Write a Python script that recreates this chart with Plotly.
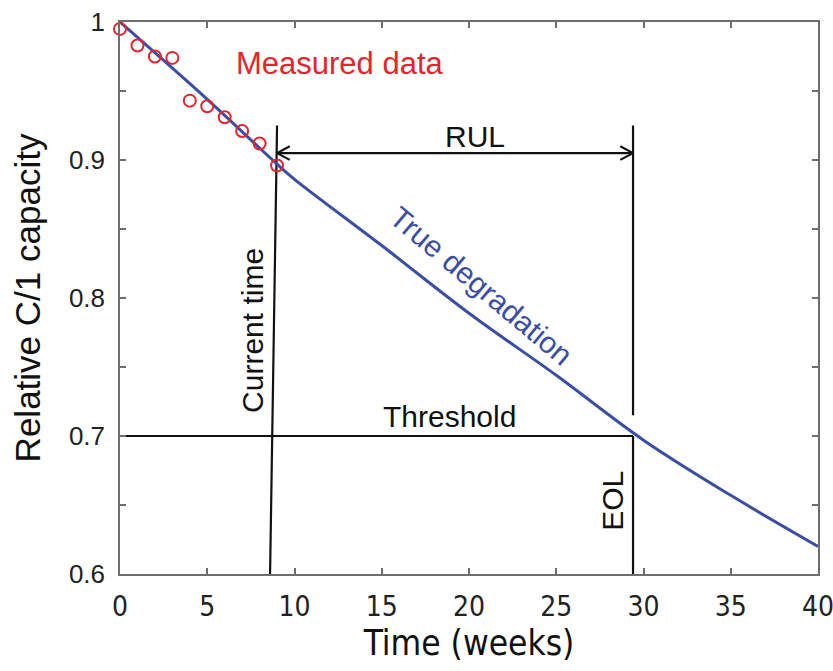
import plotly.graph_objects as go

# ---- data ----
measured_x = [0, 1, 2, 3, 4, 5, 6, 7, 8, 9]
measured_y = [0.995, 0.983, 0.975, 0.974, 0.943, 0.939, 0.931, 0.921, 0.912, 0.896]

curve_x = [0, 5, 9, 10, 15, 20, 25, 30, 35, 40]
curve_y = [1.000, 0.944, 0.897, 0.886, 0.838, 0.789, 0.744, 0.697, 0.657, 0.620]

threshold = 0.7
current_time_bottom = 8.6
current_time_top = 9.0
eol_time = 29.4
marker_top = 0.925
rul_level = 0.905

x_ticks = [0, 5, 10, 15, 20, 25, 30, 35, 40]
y_ticks = [0.6, 0.7, 0.8, 0.9, 1.0]
y_tick_labels = ["0.6", "0.7", "0.8", "0.9", "1"]

RED = "#e8232b"
BLUE = "#3a4ea6"
BLACK = "#111111"
AXIS = "#6e6e6e"
FONT = "Liberation Sans, Arial, sans-serif"
NARROW = "Liberation Sans Narrow, DejaVu Sans Condensed, Liberation Sans, Arial, sans-serif"

fig = go.Figure()

line_style = dict(color=BLACK, width=2.2)

# Threshold line
fig.add_trace(go.Scatter(x=[0, eol_time], y=[threshold, threshold], mode="lines",
                         line=line_style, hoverinfo="skip", showlegend=False))
# Current time (slightly slanted)
fig.add_trace(go.Scatter(x=[current_time_bottom, current_time_top], y=[0.6, marker_top],
                         mode="lines", line=line_style, hoverinfo="skip", showlegend=False,
                         cliponaxis=False))
# EOL line (two segments)
fig.add_trace(go.Scatter(x=[eol_time, eol_time, None, eol_time, eol_time],
                         y=[0.6, threshold, None, threshold + 0.015, marker_top],
                         mode="lines", line=line_style, hoverinfo="skip", showlegend=False,
                         cliponaxis=False))
# RUL arrow shaft
fig.add_trace(go.Scatter(x=[current_time_top, eol_time], y=[rul_level, rul_level], mode="lines",
                         line=line_style, hoverinfo="skip", showlegend=False))
# Arrow heads (open chevrons)
hx, hy = 0.73, 0.0049
fig.add_trace(go.Scatter(
    x=[current_time_top + hx, current_time_top, current_time_top + hx, None,
       eol_time - hx, eol_time, eol_time - hx],
    y=[rul_level + hy, rul_level, rul_level - hy, None,
       rul_level + hy, rul_level, rul_level - hy],
    mode="lines", line=line_style, hoverinfo="skip", showlegend=False))

# True degradation curve
fig.add_trace(go.Scatter(x=curve_x, y=curve_y, mode="lines", line_shape="spline",
                         line=dict(color=BLUE, width=3), showlegend=False))

# Measured data
fig.add_trace(go.Scatter(x=measured_x, y=measured_y, mode="markers",
                         marker=dict(symbol="circle-open", size=12, color=RED,
                                     line=dict(color=RED, width=2)),
                         cliponaxis=False, showlegend=False))

annotations = [
    dict(x=12.58, y=0.9696, text="Measured data", font=dict(color=RED, size=31)),
    dict(x=20.37, y=0.9167, text="RUL", font=dict(color=BLACK, size=30)),
    dict(x=20.69, y=0.8094, text="True degradation", textangle=40,
         font=dict(color=BLUE, size=30)),
    dict(x=7.56, y=0.7768, text="Current time", textangle=-90,
         font=dict(color=BLACK, size=30)),
    dict(x=18.88, y=0.7138, text="Threshold", font=dict(color=BLACK, size=30)),
    dict(x=28.25, y=0.653, text="EOL", textangle=-90, font=dict(color=BLACK, size=30)),
]
for a in annotations:
    a.update(xref="x", yref="y", showarrow=False, xanchor="center", yanchor="middle")
    a["font"]["family"] = FONT

fig.update_layout(
    width=833, height=671,
    margin=dict(l=120, r=15, t=22, b=97),
    paper_bgcolor="white", plot_bgcolor="white",
    font=dict(family=FONT, color=BLACK),
    annotations=annotations,
    xaxis=dict(range=[0, 40], tickvals=x_ticks, ticks="inside", ticklen=6, automargin=False,
               tickcolor=AXIS, tickwidth=1.5, showline=True, linecolor=AXIS, linewidth=1.5,
               mirror="ticks", showgrid=False, zeroline=False, ticklabeloverflow="allow",
               tickfont=dict(size=28, color="#222222", family=NARROW), ticklabelstandoff=7,
               title=dict(text="Time (weeks)", font=dict(size=35, color=BLACK, family=NARROW),
                          standoff=4)),
    yaxis=dict(range=[0.6, 1.0], tickvals=y_ticks, ticktext=y_tick_labels, ticks="inside",
               ticklen=6, tickcolor=AXIS, tickwidth=1.5, showline=True, linecolor=AXIS,
               linewidth=1.5, mirror="ticks", showgrid=False, zeroline=False, automargin=False,
               ticklabeloverflow="allow",
               minor=dict(dtick=0.05, ticks="inside", ticklen=6, tickcolor=AXIS, tickwidth=1.5),
               tickfont=dict(size=26, color="#222222"), ticklabelstandoff=8,
               title=dict(text="Relative C/1 capacity", font=dict(size=35, color=BLACK),
                          standoff=18)),
)

fig.write_html("out.html", config={"displayModeBar": False},
               post_script="document.body.style.margin='0';document.body.style.overflow='hidden';")
